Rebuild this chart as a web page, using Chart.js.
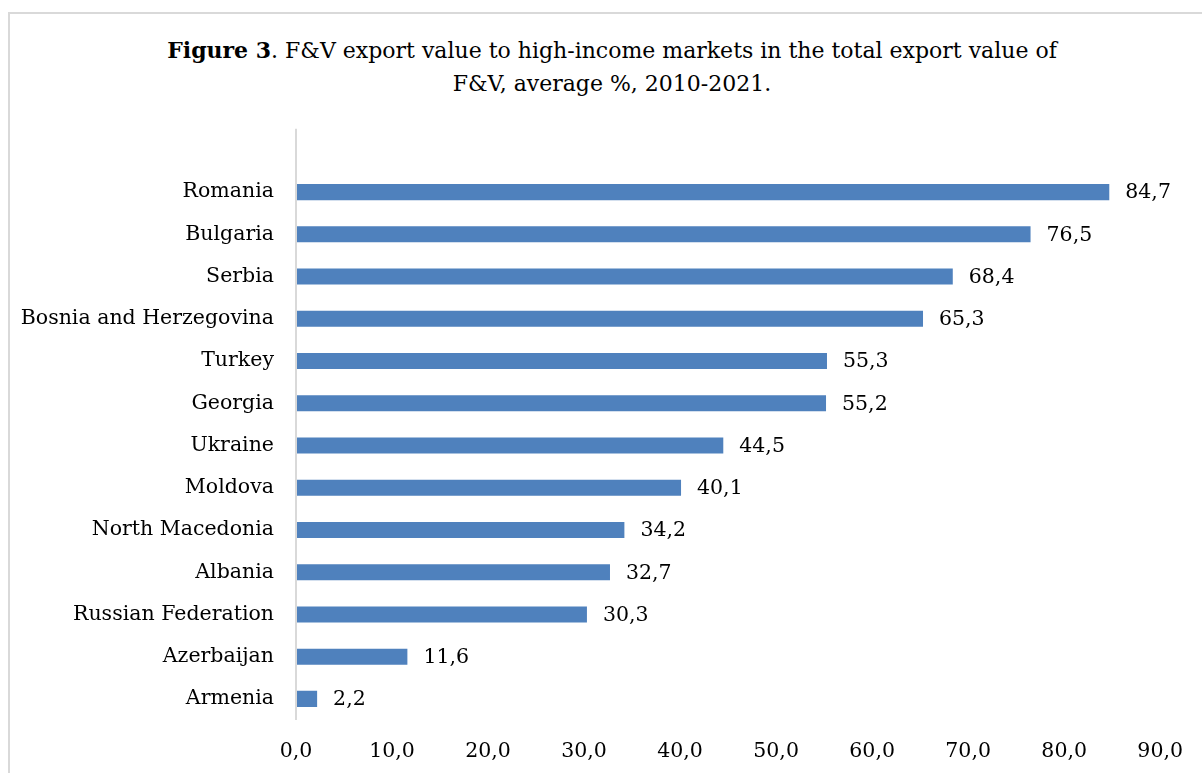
<!DOCTYPE html>
<html>
<head>
<meta charset="utf-8">
<script src="https://cdn.jsdelivr.net/npm/chart.js@4"></script>
<style>
  html, body { margin: 0; padding: 0; background: #fff; }
  #wrap { position: relative; width: 1202px; height: 773px; overflow: hidden; }
  #frame { position: absolute; left: 8px; top: 12px; width: 1220px; height: 800px; border: 2px solid #d9d9d9; box-sizing: border-box; }
  #title { position: absolute; left: 0; top: 34px; width: 1224px; text-align: center; font-family: "DejaVu Serif", serif; font-size: 22px; line-height: 33px; color: #000; }
  canvas { position: absolute; left: 0; top: 0; }
</style>
</head>
<body>
<div id="wrap">
  <div id="frame"></div>
  <div id="title"><b>Figure 3</b>. F&amp;V export value to high-income markets in the total export value of<br>F&amp;V, average %, 2010-2021.</div>
  <canvas id="c" width="1202" height="773"></canvas>
</div>
<script>
const categories = ["Romania", "Bulgaria", "Serbia", "Bosnia and Herzegovina", "Turkey", "Georgia", "Ukraine", "Moldova", "North Macedonia", "Albania", "Russian Federation", "Azerbaijan", "Armenia"];
const values = [84.7, 76.5, 68.4, 65.3, 55.3, 55.2, 44.5, 40.1, 34.2, 32.7, 30.3, 11.6, 2.2];
const xTicks = [0, 10, 20, 30, 40, 50, 60, 70, 80, 90];

const fmt = v => v.toFixed(1).replace('.', ',');
const FONT = '"DejaVu Serif", serif';
const FS = 20.5;

const valueLabels = {
  id: 'valueLabels',
  afterDatasetsDraw(chart) {
    const ctx = chart.ctx;
    const meta = chart.getDatasetMeta(0);
    ctx.save();
    ctx.font = FS + 'px ' + FONT;
    ctx.fillStyle = '#000';
    ctx.textAlign = 'left';
    ctx.textBaseline = 'middle';
    meta.data.forEach((el, i) => {
      ctx.fillText(fmt(values[i]), el.x + 16, el.y + 1);
    });
    ctx.restore();
  }
};

const axisLine = {
  id: 'axisLine',
  afterDraw(chart) {
    const ctx = chart.ctx;
    const a = chart.chartArea;
    const step = a.height / categories.length;
    ctx.save();
    ctx.strokeStyle = '#d9d9d9';
    ctx.lineWidth = 2;
    ctx.beginPath();
    ctx.moveTo(a.left, a.top - step);
    ctx.lineTo(a.left, a.bottom);
    ctx.stroke();
    ctx.restore();
  }
};

new Chart(document.getElementById('c'), {
  type: 'bar',
  data: {
    labels: categories,
    datasets: [{
      data: values,
      backgroundColor: '#4F81BD',
      borderWidth: 0,
      categoryPercentage: 1,
      barPercentage: 0.38
    }]
  },
  options: {
    indexAxis: 'y',
    responsive: false,
    animation: false,
    devicePixelRatio: 1,
    layout: { padding: { top: 171, right: 38, bottom: 0, left: 0 } },
    plugins: { legend: { display: false }, tooltip: { enabled: false }, title: { display: false } },
    scales: {
      x: {
        min: 0, max: 90,
        afterBuildTicks(scale) { scale.ticks = xTicks.map(v => ({ value: v })); },
        afterFit(scale) { scale.height = 53; },
        grid: { display: false, drawTicks: false },
        border: { display: false },
        ticks: {
          padding: 19,
          color: '#000',
          font: { family: FONT, size: FS },
          callback: v => fmt(v),
          maxRotation: 0
        }
      },
      y: {
        afterFit(scale) { scale.width = 296; },
        grid: { display: false, drawTicks: false },
        border: { display: false },
        ticks: {
          padding: 22,
          color: '#000',
          font: { family: FONT, size: FS }
        }
      }
    }
  },
  plugins: [valueLabels, axisLine]
});
</script>
</body>
</html>
